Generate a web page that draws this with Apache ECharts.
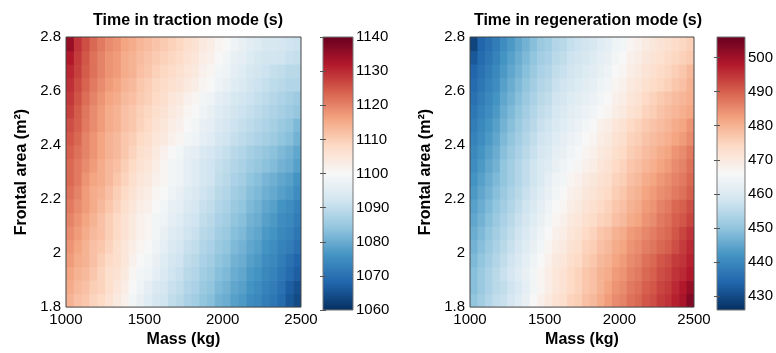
<!DOCTYPE html>
<html><head><meta charset="utf-8">
<script src="https://cdn.jsdelivr.net/npm/echarts@6/dist/echarts.min.js"></script>
<style>html,body{margin:0;padding:0;background:#fff}#c{width:776px;height:353px}</style>
</head><body><div id="c"></div>
<script>
// ---- data (cell centres) ----
const massCenters = [1025,1075,1125,1175,1225,1275,1325,1375,1425,1475,1525,1575,1625,1675,1725,
                     1775,1825,1875,1925,1975,2025,2075,2125,2175,2225,2275,2325,2375,2425,2475];
const areaCenters = [1.825,1.875,1.925,1.975,2.025,2.075,2.125,2.175,2.225,2.275,
                     2.325,2.375,2.425,2.475,2.525,2.575,2.625,2.675,2.725,2.775];
const massTicks = [1000,1500,2000,2500];
const areaTicks = [1.8,2,2.2,2.4,2.6,2.8];
const tractionTicks = [1060,1070,1080,1090,1100,1110,1120,1130,1140];
const regenTicks = [430,440,450,460,470,480,490,500];
const tractionRange = [1060,1140];
const regenRange = [426,506];
// rows: area 1.825 (bottom) ... 2.775 (top); columns: mass 1025 ... 2475
const tractionTime = [
  [1114,1112,1111,1109,1108,1106,1104,1102,1099,1097,1095,1093,1092,1090,1089,1087,1086,1084,1083,1081,1080,1078,1077,1075,1074,1072,1071,1069,1066,1064],
  [1115,1113,1112,1110,1109,1107,1105,1103,1100,1098,1096,1094,1093,1091,1090,1088,1087,1085,1084,1082,1081,1079,1078,1076,1075,1073,1072,1070,1067,1065],
  [1116,1114,1113,1111,1109,1107,1106,1104,1101,1099,1098,1096,1094,1092,1091,1089,1088,1086,1085,1083,1082,1080,1079,1077,1076,1074,1073,1071,1069,1067],
  [1117,1115,1114,1112,1110,1108,1107,1105,1102,1100,1099,1097,1095,1093,1092,1090,1089,1087,1086,1084,1083,1081,1080,1078,1077,1075,1074,1072,1070,1068],
  [1118,1116,1114,1112,1111,1109,1107,1105,1103,1101,1100,1098,1096,1094,1093,1091,1090,1088,1087,1085,1084,1082,1081,1079,1078,1076,1075,1073,1072,1070],
  [1119,1117,1115,1113,1112,1110,1108,1106,1104,1102,1101,1099,1097,1095,1094,1092,1091,1089,1088,1086,1085,1083,1082,1080,1079,1077,1076,1074,1073,1071],
  [1120,1118,1116,1114,1112,1110,1108,1106,1104,1102,1101,1099,1098,1096,1095,1093,1092,1090,1089,1087,1086,1084,1083,1081,1080,1078,1077,1075,1074,1072],
  [1121,1119,1117,1115,1113,1111,1109,1107,1105,1103,1102,1100,1099,1097,1096,1094,1093,1091,1090,1088,1087,1085,1084,1082,1081,1079,1078,1076,1075,1073],
  [1122,1120,1117,1115,1114,1112,1110,1108,1106,1104,1103,1101,1100,1098,1097,1095,1094,1092,1091,1089,1088,1086,1085,1083,1082,1080.5,1079.5,1078,1077,1075],
  [1123,1121,1118,1116,1115,1113,1111,1109,1107,1105,1104,1102,1101,1099,1098,1096,1095,1093,1092,1090,1089,1087,1086,1084,1083,1081.5,1080.5,1079,1078,1076],
  [1123,1121,1119,1117,1115,1113,1112,1110,1108,1106,1105,1103,1101,1099,1098,1096,1095,1093,1092,1090.5,1089.5,1088,1087,1085.5,1084.5,1083.5,1082.5,1081,1080,1078],
  [1124,1122,1120,1118,1116,1114,1113,1111,1109,1107,1106,1104,1102,1100,1099,1097,1096,1094,1093,1091.5,1090.5,1089,1088,1086.5,1085.5,1084.5,1083.5,1082,1081,1079],
  [1125,1123,1120,1118,1116,1114,1113,1111,1110,1108,1107,1105,1104,1102,1101,1099,1098,1096,1095,1093,1092,1090.5,1089.5,1088.5,1087.5,1086.5,1085.5,1084,1083,1081],
  [1126,1124,1121,1119,1117,1115,1114,1112,1111,1109,1108,1106,1105,1103,1102,1100,1099,1097,1096,1094,1093,1091.5,1090.5,1089.5,1088.5,1087.5,1086.5,1085,1084,1082],
  [1127.5,1124.5,1121.5,1119,1117,1115,1114,1112,1111,1109.5,1108.5,1107,1106,1104,1103,1101,1100,1098,1097,1095,1094,1092.5,1091.5,1090.5,1089.5,1088.5,1087.5,1086.5,1085.5,1084.5],
  [1128.5,1125.5,1122.5,1120,1118,1116,1115,1113,1112,1110.5,1109.5,1108,1107,1105,1104,1102,1101,1099,1098,1096,1095,1093.5,1092.5,1091.5,1090.5,1089.5,1088.5,1087.5,1086.5,1085.5],
  [1129.5,1126.5,1123.5,1121,1119,1117,1116,1114,1113,1111,1110,1108.5,1107.5,1106.5,1105.5,1104,1103,1101,1100,1098,1097,1095,1094,1092.5,1091.5,1090.5,1089.5,1089,1088,1088],
  [1130.5,1127.5,1124.5,1122,1120,1118,1117,1115,1114,1112,1111,1109.5,1108.5,1107.5,1106.5,1105,1104,1102,1101,1099,1098,1096,1095,1093.5,1092.5,1091.5,1090.5,1090,1089,1089],
  [1132,1128,1125,1122,1120,1118,1117,1115,1114,1112.5,1111.5,1110.5,1109.5,1108.5,1107.5,1106,1105,1103,1102,1100,1099,1097,1096,1094.5,1093.5,1092.5,1092.5,1092,1091,1090.5],
  [1135,1129,1126,1123,1121,1119,1118,1116,1115,1113.5,1112.5,1111.5,1110.5,1109.5,1108.5,1107,1106,1104,1103,1101,1100,1098,1097,1095.5,1094.5,1093.5,1093.5,1093,1092,1091.5]
];
const regenTime = [
  [450,452,454,456,457,459,461,463,466,468,470,472,473,475,476,478,479,481,483,485,486,488,489,491,492,494,495,497,499,503],
  [449,451,453,455,456,458,460,462,465,467,469,471,472,474,475,477,478,480,482,484,485,487,488,490,491,493,494,496,498,501],
  [449,451,453,455,457,459,461,463,465,467,469,471,472,474,475,477,478,480,481,483,484,486,487,489,490,492,493,495,496,498],
  [448,450,452,454,456,458,460,462,464,466,468,470,471,473,474,476,477,479,480,482,483,485,486,488,489,491,492,494,495,497],
  [447,449,451,453,455,457,459,461,463,465,467,469,470,472,473,475,476,478,479,481,482,484,485,486.5,487.5,489,490,492,494,496],
  [446,448,450,452,454,456,458,460,462,464,466,468,469,471,472,474,475,477,478,480,481,483,484,485.5,486.5,488,489,491,493,495],
  [445,447,449,451,453,455,457,459,461,463,465,467,468,470,471,472.5,473.5,475,476,478,479,481,482,484,485,487,488,490,491,493],
  [444,446,448,450,452,454,456,458,460,462,464,466,467,469,470,471.5,472.5,474,475,477,478,480,481,483,484,486,487,489,490,492],
  [443,445,447,449,451,453,455,457,459,461,463,465,466,468,469,470.5,471.5,473,474,476,477,479,480,482,483,484.5,485.5,487,488,490],
  [442,444,446,448,450,452,454,456,458,460,462,464,465,467,468,469.5,470.5,472,473,475,476,478,479,481,482,483.5,484.5,486,487,489],
  [441,443,445,447,450,452,454,456,458,460,461,463,464,465.5,466.5,468,469,471,472,474,475,477,478,479.5,480.5,482,483,485,486,488],
  [440,442,444,446,449,451,453,455,457,459,460,462,463,464.5,465.5,467,468,470,471,473,474,476,477,478.5,479.5,481,482,484,485,487],
  [439,441,443,445,448,450,452,454,456,458,459,461,462,463.5,464.5,466,467,469,470,472,473,475,476,477.5,478.5,479.5,480.5,482,483,485],
  [438,440,442,444,447,449,451,453,455,457,458,460,461,462.5,463.5,465,466,468,469,471,472,474,475,476.5,477.5,478.5,479.5,481,482,484],
  [437,439,441,443,446,448,450,452,454,456,457,459,460,461.5,462.5,463.5,464.5,466,467,469,470,472,473,475,476,477.5,478.5,479.5,480.5,481.5],
  [436,438,440,442,445,447,449,451,453,455,456,458,459,460.5,461.5,462.5,463.5,465,466,468,469,471,472,474,475,476.5,477.5,478.5,479.5,480.5],
  [435,437,439,441,444,446,448,450,452,454,455,457,458,459.5,460.5,461.5,462.5,464,465,467,468,470,471,472.5,473.5,474.5,475.5,477,478,480],
  [434,436,438,440,443,445,447,449,451,453,454,456,457,458.5,459.5,460.5,461.5,463,464,466,467,469,470,471.5,472.5,473.5,474.5,476,477,479],
  [432,435,437,439,442,444,446,448,450,452,453,455,456,457.5,458.5,459.5,460.5,462,463,465,466,468,469,470.5,471.5,472.5,473.5,474.5,475.5,476.5],
  [429,434,436,438,441,443,445,447,449,451,452,454,455,456.5,457.5,458.5,459.5,461,462,464,465,467,468,469.5,470.5,471.5,472.5,473.5,474.5,475.5]
];
const palette = ['#053061','#2166ac','#4393c3','#92c5de','#d1e5f0','#f7f7f7','#fddbc7','#f4a582','#d6604d','#b2182b','#67001f'];

// ---- build ----
function toCells(grid) {
  const out = [];
  grid.forEach((row, i) => row.forEach((v, j) => out.push([massCenters[j], areaCenters[i], v])));
  return out;
}
const dm = massCenters[1] - massCenters[0];
const da = areaCenters[1] - areaCenters[0];
function renderCell(params, api) {
  const m = api.value(0), a = api.value(1);
  const p0 = api.coord([m - dm / 2, a + da / 2]);
  const p1 = api.coord([m + dm / 2, a - da / 2]);
  return { type: 'rect', shape: { x: p0[0], y: p0[1], width: p1[0] - p0[0] + 0.6, height: p1[1] - p0[1] + 0.6 },
           style: { fill: api.visual('color') } };
}
function renderBar(params, api) {
  const p0 = api.coord([0, api.value(1)]);
  const p1 = api.coord([1, api.value(0)]);
  const stops = palette.slice().reverse().map((c, i, arr) => ({ offset: i / (arr.length - 1), color: c }));
  return { type: 'rect', shape: { x: p0[0], y: p0[1], width: p1[0] - p0[0], height: p1[1] - p0[1] },
           style: { fill: new echarts.graphic.LinearGradient(0, 0, 0, 1, stops) } };
}
const FONT = 'Liberation Sans, Arial, sans-serif';
const plain = v => String(+v.toFixed(6));
const lab = { color: '#000', fontSize: 15, fontFamily: FONT, formatter: plain };
const nameStyle = { color: '#000', fontSize: 16, fontWeight: 'bold', fontFamily: FONT };

function mainX(gi) {
  return { gridIndex: gi, type: 'value', min: massTicks[0], max: massTicks[massTicks.length - 1],
    axisLine: { show: false }, axisTick: { show: false }, splitLine: { show: false },
    axisLabel: Object.assign({ customValues: massTicks, margin: 5 }, lab),
    name: 'Mass (kg)', nameLocation: 'middle', nameGap: 22, nameTextStyle: nameStyle };
}
function mainY(gi) {
  return { gridIndex: gi, type: 'value', min: areaTicks[0], max: areaTicks[areaTicks.length - 1],
    axisLine: { show: false }, axisTick: { show: false }, splitLine: { show: false },
    axisLabel: Object.assign({ customValues: areaTicks, margin: 5 }, lab),
    name: 'Frontal area (m²)', nameLocation: 'middle', nameGap: 36, nameTextStyle: nameStyle };
}
function barX(gi) { return { gridIndex: gi, type: 'value', min: 0, max: 1, show: false }; }
function barY(gi, range, ticks, pos) {
  return { gridIndex: gi, type: 'value', min: range[0], max: range[1], position: pos, z: 10,
    axisLine: { show: false }, splitLine: { show: false },
    axisTick: { show: true, inside: true, length: 3, customValues: ticks, lineStyle: { color: '#555' } },
    axisLabel: pos === 'right' ? Object.assign({ customValues: ticks, margin: 3 }, lab) : { show: false } };
}

const option = {
  animation: false,
  backgroundColor: '#fff',
  title: [
    { text: 'Time in traction mode (s)', left: 183, top: 8, textAlign: 'center',
      textStyle: { fontSize: 16, fontWeight: 'bold', color: '#000', fontFamily: FONT } },
    { text: 'Time in regeneration mode (s)', left: 583, top: 8, textAlign: 'center',
      textStyle: { fontSize: 16, fontWeight: 'bold', color: '#000', fontFamily: FONT } }
  ],
  grid: [
    { left: 66, top: 37, width: 235, height: 273, show: true, z: 5, backgroundColor: 'transparent', borderColor: '#444', borderWidth: 1 },
    { left: 323, top: 37, width: 30, height: 273, show: true, z: 5, backgroundColor: 'transparent', borderColor: '#777', borderWidth: 1 },
    { left: 470, top: 37, width: 224, height: 273, show: true, z: 5, backgroundColor: 'transparent', borderColor: '#444', borderWidth: 1 },
    { left: 717, top: 37, width: 30, height: 273, show: true, z: 5, backgroundColor: 'transparent', borderColor: '#777', borderWidth: 1 }
  ],
  xAxis: [mainX(0), barX(1), mainX(2), barX(3)],
  yAxis: [
    mainY(0),
    barY(1, tractionRange, tractionTicks, 'right'),
    barY(1, tractionRange, tractionTicks, 'left'),
    mainY(2),
    barY(3, regenRange, regenTicks, 'right'),
    barY(3, regenRange, regenTicks, 'left')
  ],
  visualMap: [
    { type: 'continuous', show: false, seriesIndex: 0, dimension: 2, min: tractionRange[0], max: tractionRange[1], inRange: { color: palette } },
    { type: 'continuous', show: false, seriesIndex: 2, dimension: 2, min: regenRange[0], max: regenRange[1], inRange: { color: palette } }
  ],
  series: [
    { type: 'custom', xAxisIndex: 0, yAxisIndex: 0, clip: true, renderItem: renderCell, data: toCells(tractionTime) },
    { type: 'custom', xAxisIndex: 1, yAxisIndex: 1, renderItem: renderBar, data: [tractionRange] },
    { type: 'custom', xAxisIndex: 2, yAxisIndex: 3, clip: true, renderItem: renderCell, data: toCells(regenTime) },
    { type: 'custom', xAxisIndex: 3, yAxisIndex: 4, renderItem: renderBar, data: [regenRange] }
  ]
};
const chart = echarts.init(document.getElementById('c'), null, { renderer: 'canvas' });
chart.setOption(option);
</script>
</body></html>
